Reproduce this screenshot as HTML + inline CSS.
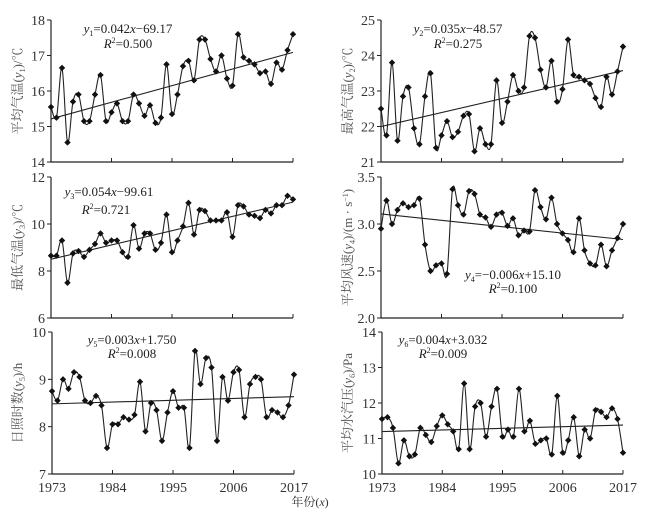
<!DOCTYPE html>
<html><head><meta charset="utf-8"><style>
body{margin:0;background:#fff;}
svg{display:block;font-family:"Liberation Serif","Noto Serif CJK SC",serif;}
</style></head><body>
<svg id="chart" width="666" height="517" viewBox="0 0 666 517"></svg>
<script>
const years = Array.from({length:45},(_,i)=>1973+i);
const xTickLabels = ["1973","1984","1995","2006","2017"];
const meanTemp = [15.55,15.25,16.65,14.55,15.7,15.9,15.15,15.15,15.9,16.45,15.15,15.4,15.65,15.15,15.15,15.9,15.65,15.3,15.6,15.1,15.25,16.75,15.35,15.9,16.7,16.85,16.3,17.45,17.45,16.9,16.55,17.0,16.35,16.15,17.6,16.95,16.85,16.75,16.5,16.55,16.2,16.8,16.6,17.15,17.6];
const maxTemp = [22.5,21.75,23.8,21.6,22.85,23.1,21.95,21.5,22.85,23.5,21.4,21.75,22.15,21.7,21.85,22.3,22.35,21.3,21.95,21.5,21.5,23.3,22.1,22.7,23.45,23.0,23.1,24.55,24.5,23.6,23.1,23.85,22.7,23.05,24.45,23.45,23.4,23.3,23.2,22.8,22.55,23.4,22.9,23.55,24.25];
const minTemp = [8.65,8.65,9.3,7.5,8.75,8.85,8.6,8.9,9.15,9.6,9.2,9.3,9.3,8.8,8.6,9.95,8.95,9.6,9.6,8.9,9.2,10.4,8.8,9.3,9.9,10.9,9.55,10.6,10.55,10.15,10.15,10.15,10.5,9.45,10.8,10.75,10.4,10.35,10.25,10.6,10.45,10.8,10.8,11.2,11.05];
const windSpeed = [2.95,3.25,3.0,3.15,3.22,3.18,3.2,3.27,2.78,2.5,2.56,2.58,2.47,3.37,3.2,3.1,3.35,3.32,3.1,3.07,2.97,3.1,3.12,2.98,3.06,2.88,2.93,2.92,3.36,3.18,3.05,3.28,3.0,2.9,2.83,2.7,3.06,2.72,2.58,2.56,2.78,2.55,2.72,2.85,3.0];
const sunshine = [8.75,8.55,9.0,8.8,9.15,9.05,8.55,8.5,8.65,8.45,7.55,8.05,8.05,8.2,8.15,8.25,8.95,7.9,8.5,8.35,7.7,8.3,8.75,8.4,8.4,7.55,9.6,8.9,9.45,9.25,7.7,9.05,8.55,9.15,9.2,8.2,8.9,9.05,9.0,8.2,8.35,8.3,8.2,8.45,9.1];
const vapor = [11.55,11.6,11.3,10.3,10.95,10.5,10.55,11.3,11.1,10.9,11.35,11.65,11.4,11.2,10.7,12.55,10.7,11.9,12.0,11.05,11.9,12.4,11.05,11.25,11.05,12.4,11.2,11.5,10.85,10.95,11.0,10.55,12.2,10.6,10.95,11.6,10.5,11.25,11.0,11.8,11.75,11.6,11.85,11.55,10.6];
const ticks1 = [14,15,16,17,18];
const ticks2 = [21,22,23,24,25];
const ticks3 = [6,8,10,12];
const ticks4 = [2.0,2.5,3.0,3.5];
const ticks5 = [7,8,9,10];
const ticks6 = [10,11,12,13,14];

const NS="http://www.w3.org/2000/svg";
const svg=document.getElementById('chart');
function mk(tag,attrs,parent){const e=document.createElementNS(NS,tag);for(const k in attrs)e.setAttribute(k,attrs[k]);(parent||svg).appendChild(e);return e;}
const YI='<tspan font-style="italic">y</tspan>';
const panels=[
 {name:'mean-temp',data:meanTemp,ticks:ticks1,fmt:v=>v,x0:51,x1:293,yt:20,yb:162,label:'平均气温('+YI+'<tspan font-size="8" dy="3">1</tspan><tspan dy="-3">)/℃</tspan>',lx:22,
  eq:[128,33,'<tspan font-style="italic">y</tspan><tspan font-size="8" dy="3">1</tspan><tspan dy="-3">=0.042</tspan><tspan font-style="italic">x</tspan>−69.17'],r2:[128,48,'0.500']},
 {name:'max-temp',data:maxTemp,ticks:ticks2,fmt:v=>v,x0:381,x1:623,yt:20,yb:162,label:'最高气温('+YI+'<tspan font-size="8" dy="3">2</tspan><tspan dy="-3">)/℃</tspan>',lx:352,
  eq:[458,33,'<tspan font-style="italic">y</tspan><tspan font-size="8" dy="3">2</tspan><tspan dy="-3">=0.035</tspan><tspan font-style="italic">x</tspan>−48.57'],r2:[458,48,'0.275']},
 {name:'min-temp',data:minTemp,ticks:ticks3,fmt:v=>v,x0:51,x1:293,yt:177,yb:318,label:'最低气温('+YI+'<tspan font-size="8" dy="3">3</tspan><tspan dy="-3">)/℃</tspan>',lx:22,
  eq:[109,196,'<tspan font-style="italic">y</tspan><tspan font-size="8" dy="3">3</tspan><tspan dy="-3">=0.054</tspan><tspan font-style="italic">x</tspan>−99.61'],r2:[106,214,'0.721']},
 {name:'wind-speed',data:windSpeed,ticks:ticks4,fmt:v=>v.toFixed(1),x0:381,x1:623,yt:177,yb:318,label:'平均风速('+YI+'<tspan font-size="8" dy="3">4</tspan><tspan dy="-3">)/(m · s</tspan><tspan font-size="8" dy="-4">−1</tspan><tspan dy="4">)</tspan>',lx:352,
  eq:[513,279,'<tspan font-style="italic">y</tspan><tspan font-size="8" dy="3">4</tspan><tspan dy="-3">=−0.006</tspan><tspan font-style="italic">x</tspan>+15.10'],r2:[513,293,'0.100']},
 {name:'sunshine-hours',data:sunshine,ticks:ticks5,fmt:v=>v,x0:52,x1:294,yt:332,yb:474,label:'日照时数('+YI+'<tspan font-size="8" dy="3">5</tspan><tspan dy="-3">)/h</tspan>',lx:22,
  eq:[132,344,'<tspan font-style="italic">y</tspan><tspan font-size="8" dy="3">5</tspan><tspan dy="-3">=0.003</tspan><tspan font-style="italic">x</tspan>+1.750'],r2:[132,358,'0.008']},
 {name:'vapor-pressure',data:vapor,ticks:ticks6,fmt:v=>v,x0:382,x1:623,yt:332,yb:474,label:'平均水汽压('+YI+'<tspan font-size="8" dy="3">6</tspan><tspan dy="-3">)/Pa</tspan>',lx:352,
  eq:[443,344,'<tspan font-style="italic">y</tspan><tspan font-size="8" dy="3">6</tspan><tspan dy="-3">=0.004</tspan><tspan font-style="italic">x</tspan>+3.032'],r2:[443,358,'0.009']}
];

panels.forEach((p,pi)=>{
  const g=mk('g',{});
  
  
  const lo=p.ticks[0],hi=p.ticks[p.ticks.length-1];
  const X=yr=>p.x0+(yr-1973)/(2017-1973)*(p.x1-p.x0);
  const Y=v=>p.yb-(v-lo)/(hi-lo)*(p.yb-p.yt);
  const ax=mk('path',{d:`M${p.x0},${p.yt}V${p.yb}H${p.x1}`,stroke:'#222',fill:'none','stroke-width':1.2},g);
  
  
  p.ticks.forEach(t=>{
    mk('line',{x1:p.x0-4,x2:p.x0,y1:Y(t),y2:Y(t),stroke:'#222'},g);
    const tl=mk('text',{x:p.x0-6,y:Y(t)+5,'text-anchor':'end','font-size':14,fill:'#333'},g);
    tl.textContent=p.fmt(t);
    
    
  });
  xTickLabels.forEach(s=>{
    const yr=+s;
    mk('line',{x1:X(yr),x2:X(yr),y1:p.yb,y2:p.yb-4,stroke:'#222'},g);
    if(pi>=4){
      const tl=mk('text',{x:X(yr),y:p.yb+18,'text-anchor':'middle','font-size':14,fill:'#333'},g);
      tl.textContent=s;
      
      
    }
  });
  const yl=mk('text',{transform:`translate(${p.lx},${(p.yt+p.yb)/2}) rotate(-90)`,'text-anchor':'middle','font-size':13,fill:'#555'},g);
  yl.innerHTML=p.label;
  
  
  const n=p.data.length;let sx=0,sy=0,sxx=0,sxy=0;
  p.data.forEach((v,i)=>{const x=years[i];sx+=x;sy+=v;sxx+=x*x;sxy+=x*v;});
  const b=(n*sxy-sx*sy)/(n*sxx-sx*sx),a=(sy-b*sx)/n;
  const tr=mk('line',{x1:X(1973),y1:Y(a+b*1973),x2:X(2017),y2:Y(a+b*2017),stroke:'#222','stroke-width':1.1},g);
  
  
  const pts=p.data.map((v,i)=>[X(years[i]),Y(v)]);
  let d=`M${pts[0][0]},${pts[0][1]}`;
  for(let i=0;i<pts.length-1;i++){
    const p0=pts[Math.max(0,i-1)],p1=pts[i],p2=pts[i+1],p3=pts[Math.min(pts.length-1,i+2)];
    const c1=[p1[0]+(p2[0]-p0[0])/6,p1[1]+(p2[1]-p0[1])/6];
    const c2=[p2[0]-(p3[0]-p1[0])/6,p2[1]-(p3[1]-p1[1])/6];
    d+=`C${c1[0]},${c1[1]} ${c2[0]},${c2[1]} ${p2[0]},${p2[1]}`;
  }
  const ln=mk('path',{d,fill:'none',stroke:'#222','stroke-width':1.1},g);
  
  
  pts.forEach(q=>{
    const m=mk('path',{d:`M${q[0]},${q[1]-3.2}L${q[0]+3.2},${q[1]}L${q[0]},${q[1]+3.2}L${q[0]-3.2},${q[1]}Z`,fill:'#111'},g);
    
    
  });
  const eq=mk('text',{x:p.eq[0],y:p.eq[1],'text-anchor':'middle','font-size':13,fill:'#222'},g);
  eq.innerHTML=p.eq[2];
  
  
  const r2=mk('text',{x:p.r2[0],y:p.r2[1],'text-anchor':'middle','font-size':13,fill:'#222'},g);
  r2.innerHTML='<tspan font-style="italic">R</tspan><tspan font-size="8" dy="-5">2</tspan><tspan dy="5">='+p.r2[2]+'</tspan>';
  
  
});
const xt=mk('text',{x:310,y:506,'text-anchor':'middle','font-size':12,fill:'#333'});
xt.innerHTML='年份(<tspan font-style="italic">x</tspan>)';


</script>
</body></html>
